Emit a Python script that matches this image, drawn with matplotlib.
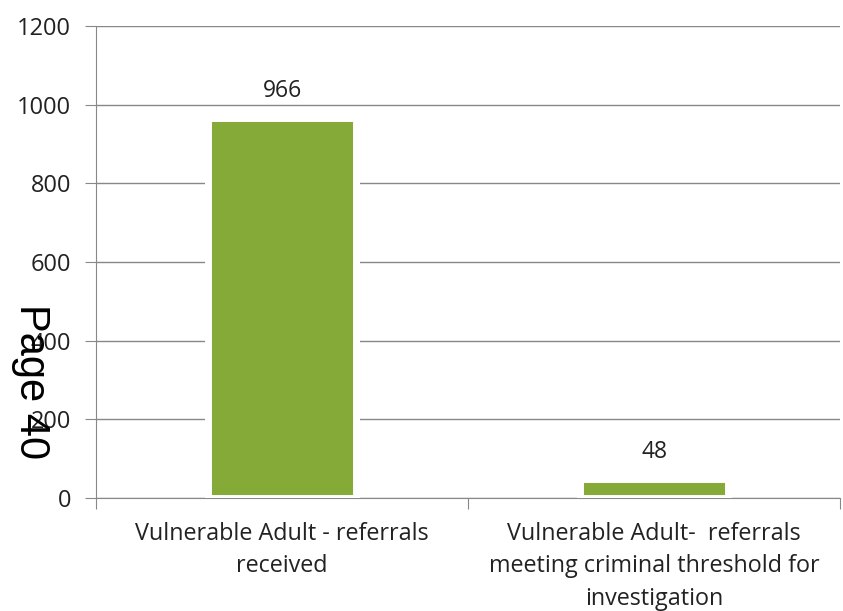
import matplotlib

matplotlib.use("Agg")
import matplotlib.pyplot as plt
import matplotlib.patheffects as pe

categories = ["Vulnerable Adult - referrals\nreceived",
              "Vulnerable Adult-  referrals\nmeeting criminal threshold for\ninvestigation"]
values = [966, 48]
y_ticks = [0, 200, 400, 600, 800, 1000, 1200]

plt.rcParams["font.family"] = ["Open Sans", "DejaVu Sans"]

fig = plt.figure(figsize=(8.43, 6.11), dpi=100)
ax = fig.add_axes([96 / 843, 1 - 498 / 611, (840 - 96) / 843, (498 - 26) / 611])

bars = ax.bar(range(len(values)), values, width=0.40, color="#86AA38",
              edgecolor="white", linewidth=5, zorder=3)
for b in bars:
    b.set_path_effects([pe.SimplePatchShadow(offset=(1, -1), shadow_rgbFace="#999999", alpha=0.4),
                        pe.Normal()])

for i, v in enumerate(values):
    ax.text(i, v + 38, str(v), ha="center", va="bottom", fontsize=16.5, color="#222222")

ax.set_xlim(-0.5, len(values) - 0.5)
ax.set_ylim(0, 1200)
ax.set_yticks(y_ticks)
ax.set_yticklabels([str(t) for t in y_ticks], fontsize=17, color="#222222")
ax.tick_params(axis="y", length=8, color="#888888", pad=10)
ax.set_xticks([-0.5, 0.5, 1.5], minor=False)
ax.set_xticklabels(["", "", ""])
ax.tick_params(axis="x", length=8, color="#888888")
ax.set_xticks(range(len(values)), minor=True)
ax.set_xticklabels(categories, minor=True, fontsize=16.8, color="#222222", linespacing=1.47)
ax.tick_params(axis="x", which="minor", length=0, pad=17)

ax.grid(axis="y", color="#888888", linewidth=1, zorder=0)
for s in ["top", "right"]:
    ax.spines[s].set_visible(False)
ax.spines["left"].set_color("#888888")
ax.spines["bottom"].set_color("#888888")

fig.text(31 / 843, 1 - 382 / 611, "Page 40", rotation=-90, ha="center", va="center",
         fontsize=30, family="Liberation Sans", color="black")

fig.savefig("out.png", dpi=100)
